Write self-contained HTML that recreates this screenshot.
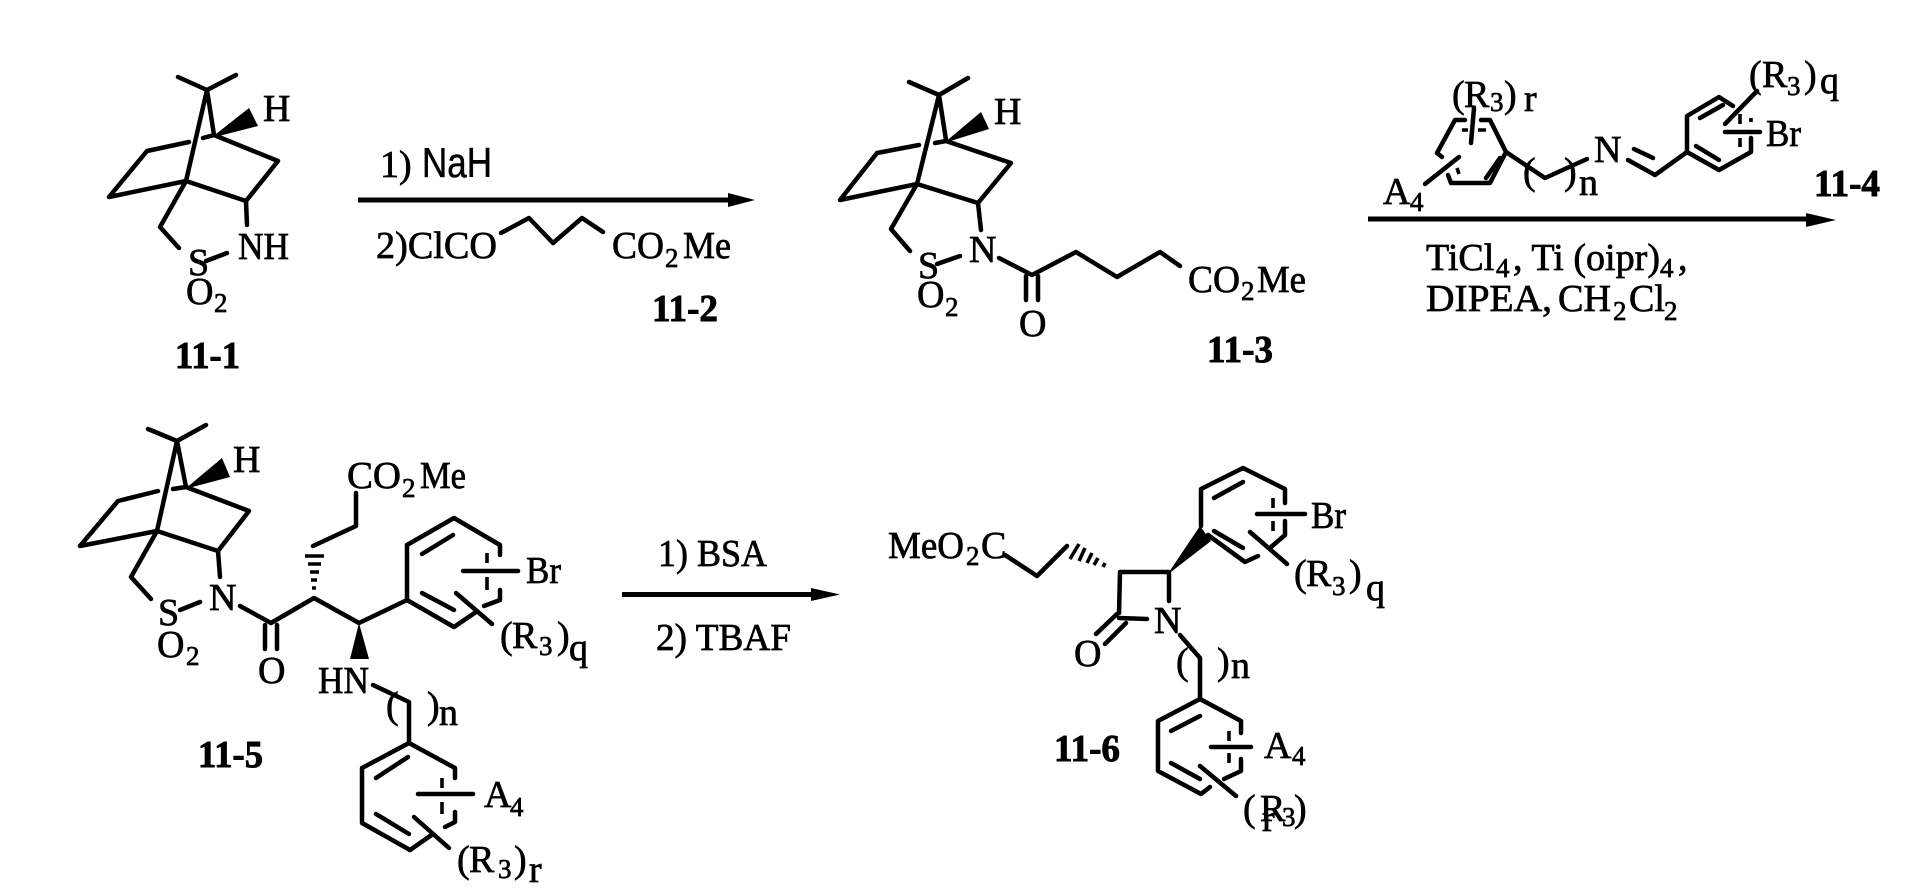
<!DOCTYPE html>
<html><head><meta charset="utf-8"><style>
html,body{margin:0;padding:0;background:#fff}
svg{display:block}
text{font-family:"Liberation Serif",serif;font-size:38px;fill:#000;stroke:#000;stroke-width:.7px}
.s{font-size:27px}
.b{font-weight:bold;stroke-width:.9px}
.f{font-family:"Liberation Sans",sans-serif;font-size:42px;stroke-width:.5px}
.l{fill:none;stroke:#000;stroke-width:4.5;stroke-linecap:round;stroke-linejoin:round}
.h{fill:none;stroke:#000;stroke-width:3.6}
.a{fill:none;stroke:#000;stroke-width:5}
</style></head><body>
<svg width="1920" height="892" viewBox="0 0 1920 892" xmlns="http://www.w3.org/2000/svg">
<rect width="1920" height="892" fill="#fff"/>

<!-- 11-1 -->
<path class="l" d="M178 77L207 90L236 75M207 90L186 181M207 90L214 135M203 138L214 135L278 161L246 201L186 181M189 142L147 151L109 197L186 181L160 227L179 248M246 201L247 225M206 261L227 253"/>
<path d="M211 138L249 108L258 126Z"/>
<text x="263" y="121">H</text><text x="238" y="259" textLength="51" lengthAdjust="spacingAndGlyphs">NH</text>
<text x="188" y="275">S</text><text x="186" y="304">O</text><text class="s" x="214" y="312">2</text>
<text class="b" x="175" y="368" textLength="65" lengthAdjust="spacingAndGlyphs">11-1</text>

<!-- arrow 1 -->
<text x="380" y="177">1)</text><text class="f" x="422" y="177" textLength="70" lengthAdjust="spacingAndGlyphs">NaH</text>
<path class="a" d="M358 200H730"/><path d="M728 193L755 200L728 207Z"/>
<text x="376" y="258" textLength="121" lengthAdjust="spacingAndGlyphs">2)ClCO</text>
<path class="l" d="M501 233L529 218L553 243L582 218L603 232"/>
<text x="612" y="258" textLength="52" lengthAdjust="spacingAndGlyphs">CO</text><text class="s" x="665" y="267">2</text><text x="683" y="258" textLength="48" lengthAdjust="spacingAndGlyphs">Me</text>
<text class="b" x="652" y="321" textLength="66" lengthAdjust="spacingAndGlyphs">11-2</text>

<!-- 11-3 -->
<path class="l" d="M909 82L939 95L968 78M939 95L917 184M939 95L946 140M935 143L946 141L1011 163L978 203L917 184M919 145L877 153L840 200L917 184L891 229L910 251M978 203L981 230M937 264L960 256M999 258L1032 275L1076 252L1117 277L1160 252L1180 266M1026 276V300M1038 276V300"/>
<path d="M944 143L981 112L989 129Z"/>
<text x="994" y="124">H</text><text x="969" y="262">N</text>
<text x="918" y="278">S</text><text x="917" y="307">O</text><text class="s" x="945" y="316">2</text>
<text x="1019" y="336">O</text>
<text x="1188" y="292" textLength="52" lengthAdjust="spacingAndGlyphs">CO</text><text class="s" x="1241" y="300">2</text><text x="1257" y="292" textLength="49" lengthAdjust="spacingAndGlyphs">Me</text>
<text class="b" x="1207" y="362" textLength="66" lengthAdjust="spacingAndGlyphs">11-3</text>

<!-- 11-4 -->
<path class="l" d="M1437 153L1455 120H1465M1481 120H1490L1506 152L1490 183H1451L1448 175M1437 153L1442 157M1506 152L1545 178L1587 159M1500 158L1486 178M1474 108L1471 143M1459 157L1425 184"/>
<path class="h" d="M1462 130H1468M1478 130H1486M1457 168L1459 174"/>
<text x="1452" y="107">(</text><text x="1464" y="107">R</text><text class="s" x="1490" y="111">3</text><text x="1504" y="107">)</text><text x="1524" y="111">r</text>
<text x="1383" y="204">A</text><text class="s" x="1410" y="211">4</text>
<text x="1523" y="184">(</text><text x="1564" y="184">)</text><text x="1579" y="195">n</text>
<text x="1594" y="162">N</text>
<path class="l" d="M1628 160L1655 175L1687 152V116L1719 97L1733 106M1687 152L1719 170L1751 152V138M1634 149L1653 158M1700 118L1723 105M1696 146L1719 160M1757 91L1725 124M1725 132H1760"/>
<path class="h" d="M1740 114V124M1740 138V147M1751 122V118"/>
<text x="1749" y="87">(</text><text x="1762" y="87">R</text><text class="s" x="1787" y="95">3</text><text x="1804" y="87">)</text><text x="1820" y="93">q</text>
<text x="1766" y="146" textLength="35" lengthAdjust="spacingAndGlyphs">Br</text>
<text class="b" x="1814" y="196" textLength="66" lengthAdjust="spacingAndGlyphs">11-4</text>
<path class="a" d="M1368 219H1808"/><path d="M1806 213L1836 220L1806 227Z"/>
<text x="1426" y="270">TiCl</text><text class="s" x="1496" y="277">4</text><text x="1513" y="270" textLength="147" lengthAdjust="spacingAndGlyphs">, Ti (oipr)</text><text class="s" x="1660" y="277">4</text><text x="1678" y="270">,</text>
<text x="1426" y="311" textLength="126" lengthAdjust="spacingAndGlyphs">DIPEA,</text><text x="1558" y="311" textLength="53" lengthAdjust="spacingAndGlyphs">CH</text><text class="s" x="1613" y="320">2</text><text x="1629" y="311">Cl</text><text class="s" x="1664" y="320">2</text>

<!-- 11-5 -->
<path class="l" d="M148 429L177 441L206 425M177 441L157 531M177 441L186 487M173 489L186 487L249 511L218 551L157 531M158 491L118 501L80 546L157 531L131 577L151 599M218 551L220 577M180 610L200 602M240 606L271 623L314 598L359 623L407 600V545L454 518L500 545V555M407 600L454 627L476 612M484 606L500 600V590M265 625V649M277 625V649M313 546L356 526V493M422 554L453 535M422 593L454 610M456 593L492 624M463 571H518"/>
<path d="M185 489L222 458L230 477Z"/><path d="M359 623L350 659H369Z"/>
<path class="h" d="M305 556H324M308 564H321M310 572H319M311 580H317M312 588H316"/>
<path class="h" d="M487 553V563M487 577V590"/>
<text x="233" y="472">H</text>
<text x="347" y="488" textLength="54" lengthAdjust="spacingAndGlyphs">CO</text><text class="s" x="402" y="497">2</text><text x="420" y="488" textLength="46" lengthAdjust="spacingAndGlyphs">Me</text>
<text x="209" y="610">N</text><text x="158" y="625">S</text><text x="157" y="657">O</text><text class="s" x="186" y="665">2</text>
<text x="258" y="683">O</text>
<text x="526" y="583" textLength="35" lengthAdjust="spacingAndGlyphs">Br</text>
<text x="500" y="648">(</text><text x="512" y="648">R</text><text class="s" x="539" y="655">3</text><text x="557" y="648">)</text><text x="569" y="660">q</text>
<text x="318" y="693" textLength="51" lengthAdjust="spacingAndGlyphs">HN</text>
<path class="l" d="M373 685L409 702V743L455 768V778M409 743L362 768V823L410 850L433 834M445 827L455 822V812M376 778L408 757M376 814L409 834M414 817L449 848M418 794H473"/>
<path class="h" d="M442 778V788M442 802V814"/>
<text x="386" y="718">(</text><text x="427" y="718">)</text><text x="439" y="725">n</text>
<text x="484" y="807">A</text><text class="s" x="510" y="816">4</text>
<text x="457" y="872">(</text><text x="469" y="872">R</text><text class="s" x="498" y="878">3</text><text x="514" y="872">)</text><text x="529" y="882">r</text>
<text class="b" x="198" y="767" textLength="65" lengthAdjust="spacingAndGlyphs">11-5</text>

<!-- arrow 2 -->
<text x="658" y="566" textLength="109" lengthAdjust="spacingAndGlyphs">1) BSA</text>
<path class="a" d="M622 594.500H813"/><path d="M811 588L840 594.500L811 601Z"/>
<text x="656" y="650" textLength="135" lengthAdjust="spacingAndGlyphs">2) TBAF</text>

<!-- 11-6 -->
<text x="888" y="558" textLength="76" lengthAdjust="spacingAndGlyphs">MeO</text><text class="s" x="966" y="565">2</text><text x="981" y="558">C</text>
<path class="l" d="M1005 555L1037 576L1067 546M1169 572H1120L1119 613M1169 574V601M1119 618L1147 619M1117 614L1096 634M1126 623L1105 644M1180 635L1200 658V699L1241 721V733M1200 699L1158 721V771L1201 794L1210 787M1241 759V771L1224 779M1171 731L1200 716M1171 763L1200 779M1211 747H1251M1200 766L1236 796M1201 526V489L1243 468L1285 489V503M1285 521V535L1271 547M1258 556L1245 562L1208 535M1214 498L1243 482M1214 531L1243 548M1257 514H1305M1250 532L1287 564"/>
<path d="M1167 575L1200 526L1211 541Z"/>
<path class="h" d="M1070 559L1079 544M1079 561L1085 548M1087 563L1092 553M1094 565L1098 558M1103 567L1105 563M1273 498V508M1273 521V531M1229 731V741M1229 753V763"/>
<text x="1074" y="666">O</text><text x="1154" y="633">N</text>
<text x="1176" y="674">(</text><text x="1217" y="674">)</text><text x="1231" y="678">n</text>
<text x="1311" y="528" textLength="35" lengthAdjust="spacingAndGlyphs">Br</text>
<text x="1294" y="586">(</text><text x="1306" y="586">R</text><text class="s" x="1332" y="595">3</text><text x="1349" y="586">)</text><text x="1366" y="600">q</text>
<text x="1264" y="758">A</text><text class="s" x="1292" y="765">4</text>
<text x="1243" y="821">(</text><text x="1260" y="821">R</text><text class="s" x="1282" y="826">3</text><text x="1294" y="821">)</text><text x="1262" y="831">r</text>
<text class="b" x="1054" y="761" textLength="66" lengthAdjust="spacingAndGlyphs">11-6</text>
</svg>
</body></html>
